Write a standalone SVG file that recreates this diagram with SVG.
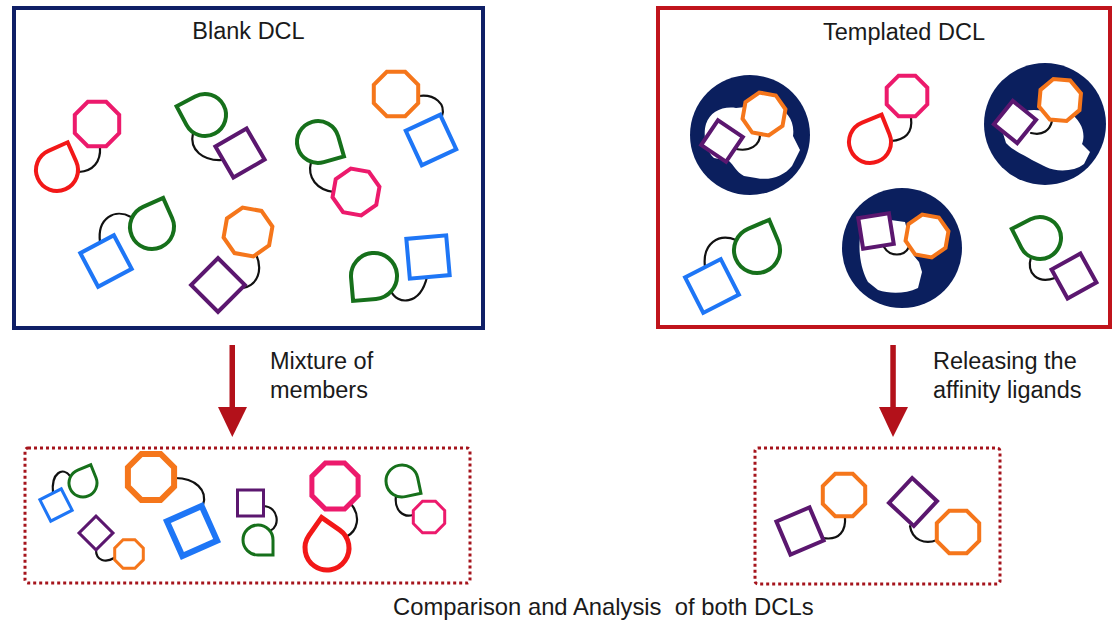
<svg xmlns="http://www.w3.org/2000/svg" xmlns:xlink="http://www.w3.org/1999/xlink" width="1112" height="623" viewBox="0 0 1112 623">
  <style>
    text { font-family: "Liberation Sans", Arial, sans-serif; font-size: 23.5px; fill: #1a1a1a; }
    .ttl { text-anchor: middle; }
    .pre { white-space: pre; font-size: 23.8px; }
    .m { fill: #fff; stroke-width: 4; }
    .w3 { stroke-width: 3; }
    .w5 { stroke-width: 5; }
    .w6 { stroke-width: 6; }
    .red { stroke: #f21818; }
    .pink { stroke: #ec1a6c; }
    .grn { stroke: #16701b; }
    .pur { stroke: #5b176f; }
    .org { stroke: #f5761b; }
    .blu { stroke: #1e76f6; }
    .ln { fill: none; stroke: #111; stroke-width: 2.2; stroke-linecap: round; }
    .pocket { fill: #0b1f5e; }
    .dots { fill: none; stroke: #a5141c; stroke-width: 3; stroke-dasharray: 3 3; }
    .arrow { fill: #b3111a; }
  </style>
  <defs>
    <!-- octagons, flat top, by circumradius -->
    <polygon id="oct25" points="23.1,9.6 9.6,23.1 -9.6,23.1 -23.1,9.6 -23.1,-9.6 -9.6,-23.1 9.6,-23.1 23.1,-9.6"/>
    <polygon id="oct24" points="22.2,9.2 9.2,22.2 -9.2,22.2 -22.2,9.2 -22.2,-9.2 -9.2,-22.2 9.2,-22.2 22.2,-9.2"/>
    <polygon id="oct23" points="21.2,8.8 8.8,21.2 -8.8,21.2 -21.2,8.8 -21.2,-8.8 -8.8,-21.2 8.8,-21.2 21.2,-8.8"/>
    <polygon id="oct22" points="20.3,8.4 8.4,20.3 -8.4,20.3 -20.3,8.4 -20.3,-8.4 -8.4,-20.3 8.4,-20.3 20.3,-8.4"/>
    <polygon id="oct17" points="15.7,6.5 6.5,15.7 -6.5,15.7 -15.7,6.5 -15.7,-6.5 -6.5,-15.7 6.5,-15.7 15.7,-6.5"/>
    <polygon id="oct16" points="14.3,5.9 5.9,14.3 -5.9,14.3 -14.3,5.9 -14.3,-5.9 -5.9,-14.3 5.9,-14.3 14.3,-5.9"/>
    <!-- teardrops: circle with one square corner (corner at upper right before rotation) -->
    <path id="tear23" d="M0,-23 L23,-23 L23,0 A23,23 0 1 1 0,-23 Z"/>
    <path id="tear22" d="M0,-22 L22,-22 L22,0 A22,22 0 1 1 0,-22 Z"/>
    <path id="tear21" d="M0,-21 L21,-21 L21,0 A21,21 0 1 1 0,-21 Z"/>
    <path id="tear16" d="M0,-16 L16,-16 L16,0 A16,16 0 1 1 0,-16 Z"/>
    <path id="tear15" d="M0,-15 L15,-15 L15,0 A15,15 0 1 1 0,-15 Z"/>
    <path id="tear14" d="M0,-14 L14,-14 L14,0 A14,14 0 1 1 0,-14 Z"/>
    <!-- squares centred on origin -->
    <rect id="sq40" x="-20" y="-20" width="40" height="40"/>
    <rect id="sq38" x="-19" y="-19" width="38" height="38"/>
    <rect id="sq36" x="-18" y="-18" width="36" height="36"/>
    <rect id="sq34" x="-17" y="-17" width="34" height="34"/>
    <rect id="sq33" x="-16.5" y="-16.5" width="33" height="33"/>
    <rect id="sq31" x="-15.5" y="-15.5" width="31" height="31"/>
    <rect id="sq30" x="-15" y="-15" width="30" height="30"/>
    <rect id="sq26" x="-13" y="-13" width="26" height="26"/>
    <rect id="sq24" x="-12" y="-12" width="24" height="24"/>
  </defs>

  <rect width="1112" height="623" fill="#fff"/>

  <!-- Blank library -->
  <g id="blank-dcl">
    <rect x="14" y="8" width="469" height="320" fill="#fff" stroke="#0f1f66" stroke-width="4"/>
    <text class="ttl" x="248.5" y="39">Blank DCL</text>
    <g id="b-m1">
      <path class="ln" d="M100,147 C101,162 93,171 79,172"/>
      <use href="#tear21" class="m red" transform="translate(57,170) rotate(-24)"/>
      <use href="#oct24" class="m pink" transform="translate(97,124)"/>
    </g>
    <g id="b-m2">
      <path class="ln" d="M193,133 C189,150 203,161 222,160"/>
      <use href="#tear21" class="m grn" transform="translate(205,115) rotate(-118)"/>
      <use href="#sq36" class="m pur" transform="translate(240,153) rotate(-30)"/>
    </g>
    <g id="b-m3">
      <path class="ln" d="M419,96 C435,94 446,104 442,116"/>
      <use href="#oct24" class="m org" transform="translate(396,94)"/>
      <use href="#sq38" class="m blu" transform="translate(431,140) rotate(-25)"/>
    </g>
    <g id="b-m4">
      <path class="ln" d="M311,162 C307,178 317,190 334,192"/>
      <use href="#tear21" class="m grn" transform="translate(318,142) rotate(74)"/>
      <use href="#oct24" class="m pink" transform="translate(356,192) rotate(10)"/>
    </g>
    <g id="b-m5">
      <path class="ln" d="M100,242 C97,218 115,208 131,217"/>
      <use href="#sq38" class="m blu" transform="translate(106,261) rotate(-28)"/>
      <use href="#tear22" class="m grn" transform="translate(152,227) rotate(-24)"/>
    </g>
    <g id="b-m6">
      <path class="ln" d="M256,254 C263,270 258,285 243,288"/>
      <use href="#oct25" class="m org" transform="translate(248,232) rotate(10)"/>
      <use href="#sq38" class="m pur" transform="translate(218,285) rotate(45)"/>
    </g>
    <g id="b-m7">
      <path class="ln" d="M391,291 C397,305 420,306 427,277"/>
      <use href="#tear23" class="m grn" transform="translate(374,276) rotate(175)"/>
      <use href="#sq40" class="m blu" transform="translate(428,257) rotate(-5)"/>
    </g>
  </g>

  <!-- Templated library -->
  <g id="templated-dcl">
    <rect x="658" y="8" width="452" height="319" fill="#fff" stroke="#c0141c" stroke-width="4"/>
    <text class="ttl" x="904" y="40">Templated DCL</text>

    <g id="t-target1">
      <circle class="pocket" cx="750" cy="135" r="60"/>
      <path fill="#fff" d="M706,124 C710,112 722,106 736,108 L772,104 C788,110 795,122 793,136 L800,150 L792,166 C784,176 770,181 756,178 L744,176 C736,172 734,165 729,161 L714,158 C705,150 703,134 706,124 Z"/>
      <path class="ln" d="M736,149 C750,152 760,145 760,135"/>
      <use href="#sq30" class="m pur" transform="translate(722,141) rotate(34)"/>
      <use href="#oct22" class="m org" transform="translate(764,114) rotate(10)"/>
    </g>
    <g id="t-target2">
      <circle class="pocket" cx="1045" cy="124" r="61"/>
      <path fill="#fff" d="M1002,130 C1008,118 1020,110 1034,110 L1068,112 C1082,120 1086,134 1082,144 L1090,152 L1084,164 C1074,172 1056,172 1046,167 L1032,160 C1022,154 1012,150 1006,143 Z"/>
      <path class="ln" d="M1031,133 C1043,136 1050,130 1052,121"/>
      <use href="#sq30" class="m pur" transform="translate(1015,122) rotate(39)"/>
      <use href="#oct22" class="m org" transform="translate(1060,100) rotate(5)"/>
    </g>
    <g id="t-target3">
      <circle class="pocket" cx="902" cy="248" r="60"/>
      <path fill="#fff" d="M860,238 C862,226 868,220 876,218 L905,222 L914,256 L919,262 L922,272 L918,288 C905,294 890,294 878,290 L868,282 C862,272 858,254 860,238 Z"/>
      <path class="ln" d="M884,247 C890,257 904,257 909,247"/>
      <use href="#sq31" class="m pur" transform="translate(876,231) rotate(-9)"/>
      <use href="#oct22" class="m org" transform="translate(927,236) rotate(10)"/>
    </g>
    <g id="t-m1">
      <path class="ln" d="M911,118 C913,133 905,140 891,141"/>
      <use href="#tear21" class="m red" transform="translate(870,142) rotate(-22)"/>
      <use href="#oct22" class="m pink" transform="translate(907,96)"/>
    </g>
    <g id="t-m2">
      <path class="ln" d="M705,267 C702,243 719,233 736,240"/>
      <use href="#tear23" class="m grn" transform="translate(757,250) rotate(-23)"/>
      <use href="#sq40" class="m blu" transform="translate(712,286) rotate(-27)"/>
    </g>
    <g id="t-m3">
      <path class="ln" d="M1031,257 C1026,274 1038,284 1055,278"/>
      <use href="#tear21" class="m grn" transform="translate(1040,238) rotate(-117)"/>
      <use href="#sq33" class="m pur" transform="translate(1074,276) rotate(-29)"/>
    </g>
  </g>

  <!-- Pooled members of the blank library -->
  <g id="mixture-pool">
    <rect class="dots" x="25" y="448" width="445" height="135" rx="3"/>
    <g id="p-m1">
      <path class="ln" d="M53,493 C51,472 63,467 70,476"/>
      <use href="#tear14" class="m grn w3" transform="translate(83,483) rotate(-22)"/>
      <use href="#sq24" class="m blu w3" transform="translate(56,505) rotate(-27)"/>
    </g>
    <g id="p-m2">
      <path class="ln" d="M175,478 C195,478 208,490 203,505"/>
      <use href="#oct25" class="m org w6" transform="translate(151,477)"/>
      <use href="#sq38" class="m blu w6" transform="translate(192,531) rotate(-24)"/>
    </g>
    <g id="p-m3">
      <path class="ln" d="M96,550 C96,561 106,563 114,558"/>
      <use href="#sq24" class="m pur w3" transform="translate(96,533) rotate(45)"/>
      <use href="#oct16" class="m org w3" transform="translate(129,554)"/>
    </g>
    <g id="p-m4">
      <path class="ln" d="M264,506 C278,507 281,526 270,531"/>
      <use href="#sq26" class="m pur w3" transform="translate(250.5,503)"/>
      <use href="#tear15" class="m grn w3" transform="translate(258,540) rotate(90)"/>
    </g>
    <g id="p-m5">
      <path class="ln" d="M351,504 C361,516 358,531 346,537"/>
      <use href="#oct25" class="m pink w5" transform="translate(335,486)"/>
      <use href="#tear22" class="m red w5" transform="translate(327,548) rotate(-55)"/>
    </g>
    <g id="p-m6">
      <path class="ln" d="M396,496 C394,510 403,518 413,515"/>
      <use href="#tear16" class="m grn w3" transform="translate(402,481) rotate(78)"/>
      <use href="#oct17" class="m pink w3" transform="translate(429,517)"/>
    </g>
  </g>

  <!-- Ligands released from the templates -->
  <g id="released-ligands">
    <rect class="dots" x="755" y="448" width="245" height="136" rx="3"/>
    <g id="r-m1">
      <path class="ln" d="M823,538 C840,541 846,530 845,517"/>
      <use href="#sq36" class="m pur" transform="translate(800,531) rotate(-23)"/>
      <use href="#oct23" class="m org" transform="translate(844,495)"/>
    </g>
    <g id="r-m2">
      <path class="ln" d="M910,526 C912,540 925,545 937,540"/>
      <use href="#sq34" class="m pur" transform="translate(913,502) rotate(43)"/>
      <use href="#oct23" class="m org" transform="translate(958,532)"/>
    </g>
  </g>

  <!-- Process arrows -->
  <g id="connectors">
    <g id="arrow-left">
      <rect class="arrow" x="229.5" y="345" width="5.5" height="64"/>
      <polygon class="arrow" points="218,407 247,407 232.3,437"/>
    </g>
    <g id="arrow-right">
      <rect class="arrow" x="890.3" y="345" width="5.5" height="64"/>
      <polygon class="arrow" points="879,407 908,407 893,437"/>
    </g>
  </g>

  <g id="labels">
    <text x="270" y="369">Mixture of</text>
    <text x="270" y="398">members</text>
    <text x="933" y="369">Releasing the</text>
    <text x="933" y="398">affinity ligands</text>
    <text class="pre" x="393" y="615">Comparison and Analysis  of both DCLs</text>
  </g>
</svg>
